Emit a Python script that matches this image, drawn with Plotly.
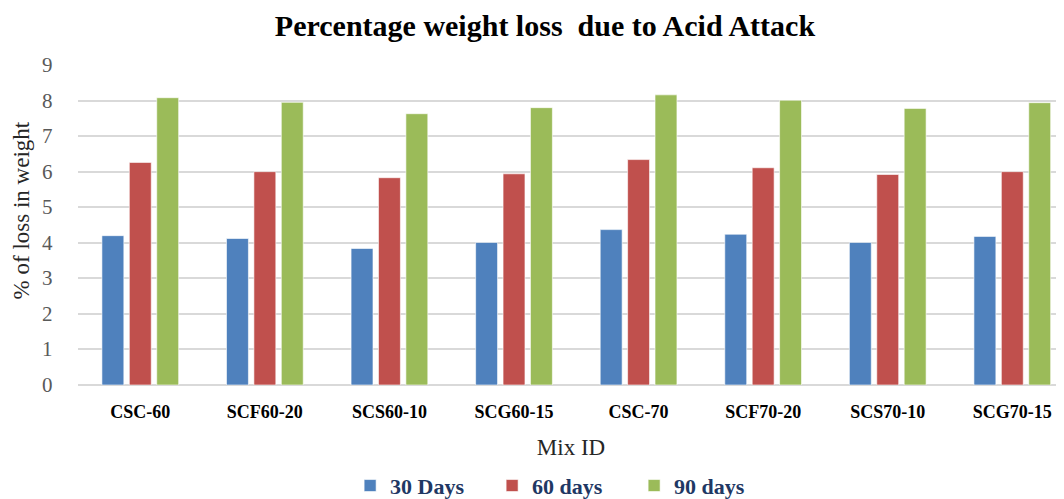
import plotly.graph_objects as go

# Mix IDs and % weight loss after acid attack
mix_ids = ["CSC-60", "SCF60-20", "SCS60-10", "SCG60-15",
           "CSC-70", "SCF70-20", "SCS70-10", "SCG70-15"]
days_30 = [4.20, 4.12, 3.84, 4.01, 4.37, 4.24, 4.01, 4.18]
days_60 = [6.26, 6.00, 5.83, 5.94, 6.34, 6.11, 5.92, 6.00]
days_90 = [8.08, 7.95, 7.63, 7.80, 8.16, 8.01, 7.78, 7.94]
y_ticks = [0, 1, 2, 3, 4, 5, 6, 7, 8, 9]

series_names = ["30 Days", "60 days", "90 days"]
colors = ["#4F81BD", "#C0504D", "#9BBB59"]

serif = "Liberation Serif"

fig = go.Figure()
for name, vals, col in zip(series_names, [days_30, days_60, days_90], colors):
    fig.add_trace(go.Bar(x=mix_ids, y=vals, name=name,
                         marker=dict(color=col, line=dict(color="rgba(255,255,255,0.6)", width=1))))

# page body has an 8px margin, so the figure is a bit smaller than the window
fig.update_layout(
    width=1056, height=491,
    margin=dict(l=70, r=0, t=57, b=114, autoexpand=False),
    plot_bgcolor="white", paper_bgcolor="white",
    barmode="group", bargap=0.34, bargroupgap=0.2,
    title=dict(text="<b>Percentage weight loss  due to Acid Attack</b>",
               x=0.5085, xanchor="center", y=0.965, yanchor="middle",
               font=dict(family=serif, size=30, color="black")),
    legend=dict(orientation="h", x=0.492, xanchor="center",
                yref="container", y=0.027, yanchor="middle",
                font=dict(family=serif, size=22, color="#1F3864", weight="bold"),
                entrywidth=97, itemwidth=30, traceorder="normal"),
)
# y axis title as annotation so it sits where the original has it
fig.add_annotation(text="% of loss in weight", textangle=-90,
                   xref="paper", yref="paper", x=-0.057, y=0.545,
                   xanchor="center", yanchor="middle", showarrow=False,
                   font=dict(family=serif, size=23, color="#262626"))
# y tick numbers, set a bit away from the gridlines like the original
for t in y_ticks:
    fig.add_annotation(text=str(t), xref="paper", yref="y", x=-0.031, y=t,
                       xanchor="center", yanchor="middle", showarrow=False,
                       font=dict(family=serif, size=21, color="#595959"))

fig.update_xaxes(range=[-0.5, 7.415], showgrid=False, showline=False, automargin=False,
                 tickfont=dict(family=serif, size=18, color="black", weight="bold"),
                 ticklabelstandoff=14,
                 title=dict(text="Mix ID", standoff=17,
                            font=dict(family=serif, size=23, color="#262626")))
fig.update_yaxes(range=[0, 9], tickvals=y_ticks, showticklabels=False,
                 showgrid=True, gridcolor="#D9D9D9", gridwidth=1.5,
                 zeroline=True, zerolinecolor="#D9D9D9", zerolinewidth=1.5, automargin=False)

fig.write_html("out.html")
